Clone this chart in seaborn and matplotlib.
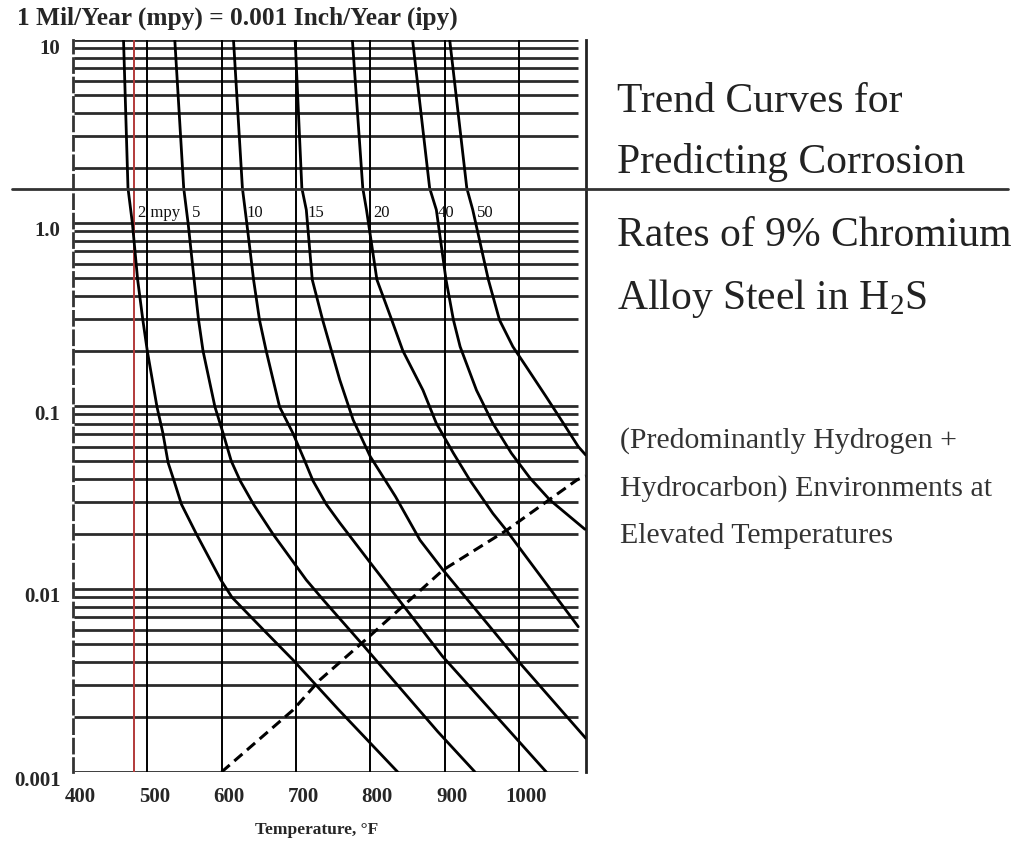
import matplotlib
matplotlib.use("Agg")
import matplotlib.pyplot as plt
import matplotlib.transforms as mtransforms
from matplotlib.lines import Line2D
from matplotlib.ticker import FixedLocator, LogLocator, NullFormatter
import pandas as pd
import seaborn as sns

sns.set_theme(style="white")
plt.rcParams["font.family"] = ["Liberation Serif", "DejaVu Serif"]
plt.rcParams["mathtext.fontset"] = "custom"
plt.rcParams["mathtext.rm"] = "Liberation Serif"
plt.rcParams["mathtext.it"] = "Liberation Serif"

# Iso-corrosion trend curves: temperature (deg F) vs H2S content (mole %)
temp_2 = [468, 474, 480, 487, 494, 500, 513, 521, 528, 536, 546, 566, 599, 614, 656, 696, 757, 837]
h2s_2 = [10, 1.55, 0.99, 0.49, 0.295, 0.20, 0.099, 0.071, 0.049, 0.039, 0.029, 0.020,
         0.0112, 0.0090, 0.0060, 0.0041, 0.0022, 0.001]

temp_5 = [537, 549, 555, 563, 569, 575, 591, 602, 613, 625, 643, 669, 714, 737, 791, 891, 941]
h2s_5 = [10, 1.55, 0.99, 0.49, 0.295, 0.20, 0.099, 0.071, 0.050, 0.039, 0.029, 0.020,
         0.0112, 0.0087, 0.0049, 0.00166, 0.001]

temp_10 = [616, 628, 634, 643, 651, 660, 678, 696, 712, 723, 741, 759, 799, 897, 1037]
h2s_10 = [10, 1.55, 0.99, 0.49, 0.295, 0.20, 0.099, 0.071, 0.050, 0.039, 0.029, 0.023,
          0.0141, 0.0043, 0.001]

temp_15 = [699, 708, 714, 722, 736, 759, 777, 800, 834, 867, 898, 1000, 1090]
h2s_15 = [10, 1.55, 1.18, 0.49, 0.295, 0.139, 0.084, 0.053, 0.032, 0.0185, 0.0127, 0.0040, 0.00153]

temp_20 = [776, 790, 795, 809, 829, 844, 871, 889, 912, 934, 965, 983, 1080]
h2s_20 = [10, 1.55, 1.18, 0.49, 0.295, 0.20, 0.122, 0.0804, 0.0552, 0.0394, 0.0259, 0.0210, 0.00622]

temp_40 = [857, 880, 889, 902, 912, 921, 943, 965, 990, 1015, 1042, 1089]
h2s_40 = [10, 1.55, 1.18, 0.49, 0.295, 0.211, 0.122, 0.0804, 0.0552, 0.0404, 0.0306, 0.0212]

temp_50 = [907, 930, 938, 959, 974, 992, 1010, 1037, 1060, 1080, 1090]
h2s_50 = [10, 1.55, 1.18, 0.49, 0.295, 0.211, 0.164, 0.112, 0.0804, 0.060, 0.054]

# Boundary (dashed) curve
temp_dash = [600, 696, 732, 798, 898, 984, 1078, 1090]
h2s_dash = [0.001, 0.00218, 0.00318, 0.00547, 0.0127, 0.0210, 0.0394, 0.0414]

curve_names = ["2 mpy", "5", "10", "15", "20", "40", "50"]
curve_temps = [temp_2, temp_5, temp_10, temp_15, temp_20, temp_40, temp_50]
curve_h2s = [h2s_2, h2s_5, h2s_10, h2s_15, h2s_20, h2s_40, h2s_50]
label_temps = [487, 560, 634, 716, 804, 891, 943]
label_h2s = 1.13

ref_temp = 482
x_ticks = [400, 500, 600, 700, 800, 900, 1000]
y_ticks = [0.001, 0.01, 0.1, 1, 10]
y_labels = ["0.001", "0.01", "0.1", "1.0", "10"]

frames = []
for name, t, h in zip(curve_names, curve_temps, curve_h2s):
    frames.append(pd.DataFrame({"temp": t, "h2s": h, "curve": name}))
df = pd.concat(frames, ignore_index=True)

W, H = 1024, 851
fig = plt.figure(figsize=(W / 100, H / 100), dpi=100)
ax = fig.add_axes([73 / W, 1 - 772 / H, (585.7 - 73) / W, (772 - 40) / H])
ax.set_yscale("log")
ax.set_xlim(400, 1090)
ax.set_ylim(0.001, 10)

# log grid: a rule at every 1..9 within each decade, stopping short of the right frame
ax.yaxis.set_major_locator(FixedLocator(y_ticks))
ax.yaxis.set_minor_locator(LogLocator(base=10, subs=range(2, 10)))
ax.yaxis.set_minor_formatter(NullFormatter())
grid_levels = [v for v in list(ax.yaxis.get_majorticklocs()) + list(ax.yaxis.get_minorticklocs())
               if 0.001 <= v <= 10]
ax.hlines(grid_levels, 401, 1080, color="#2b2b2b", lw=2.0, zorder=1)
for xv in x_ticks[1:]:
    ax.axvline(xv, color="black", lw=1.4, zorder=1)
ax.axvline(ref_temp, color="#b23a3a", lw=1.4, zorder=1)

sns.lineplot(data=df, x="temp", y="h2s", units="curve", estimator=None, sort=False,
             color="black", linewidth=2.0, ax=ax, legend=False, zorder=3)
sns.lineplot(x=temp_dash, y=h2s_dash, sort=False, color="black", linewidth=2.2,
             linestyle=(0, (3.5, 2)), ax=ax, legend=False, zorder=3)

for name, lt in zip(curve_names, label_temps):
    ax.text(lt, label_h2s, name, fontsize=12, ha="left", va="center", color="#111")

ax.set_xticks(x_ticks)
ax.set_xticklabels([str(v) for v in x_ticks], fontsize=15, fontweight="bold")
ax.set_yticks(y_ticks)
ax.set_yticklabels(y_labels, fontsize=15, fontweight="bold")
ax.tick_params(axis="both", which="both", length=0)
ax.tick_params(axis="x", pad=11)
ax.tick_params(axis="y", pad=9)
for lab in ax.get_xticklabels():
    lab.set_transform(lab.get_transform() + mtransforms.ScaledTranslation(0.07, 0, fig.dpi_scale_trans))
for lab in ax.get_yticklabels():
    lab.set_transform(lab.get_transform() + mtransforms.ScaledTranslation(0, -0.06, fig.dpi_scale_trans))
ax.set_xlabel("")
ax.set_ylabel("")
ax.grid(False)

ax.spines["top"].set_visible(False)
ax.spines["bottom"].set_visible(False)
ax.spines["left"].set_linestyle((0, (5, 2)))
ax.spines["left"].set_linewidth(2.0)
ax.spines["left"].set_color("#333")
ax.spines["right"].set_linewidth(2.0)
ax.spines["right"].set_color("#222")

fig.text(317 / W, 1 - 830 / H, "Temperature, °F", fontsize=12.5, fontweight="bold",
         ha="center", va="center")
fig.text(17 / W, 1 - 18 / H, "1 Mil/Year (mpy) = 0.001 Inch/Year (ipy)", fontsize=18.3,
         fontweight="bold", ha="left", va="center")

# Title block on the right
title_lines = ["Trend Curves for", "Predicting Corrosion", "Rates of 9% Chromium",
               "Alloy Steel in H$_2$S"]
title_y = [102, 163, 236, 298]
for s, yy in zip(title_lines, title_y):
    fig.text(617 / W, 1 - yy / H, s, fontsize=30, ha="left", va="center", color="#222")

note_lines = ["(Predominantly Hydrogen +", "Hydrocarbon) Environments at",
              "Elevated Temperatures"]
note_y = [441, 489, 536]
for s, yy in zip(note_lines, note_y):
    fig.text(620 / W, 1 - yy / H, s, fontsize=21.5, ha="left", va="center", color="#333")

fig.add_artist(Line2D([12 / W, 1008 / W], [1 - 189 / H] * 2, color="#333", lw=2.0))

fig.savefig("out.png", dpi=100, facecolor="white")
